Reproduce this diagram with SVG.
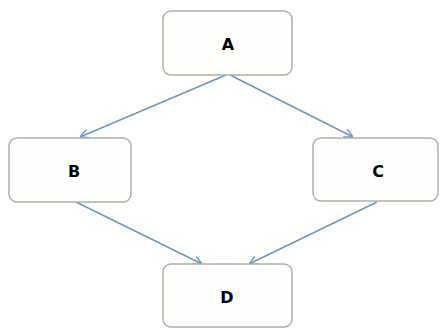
<svg xmlns="http://www.w3.org/2000/svg" width="441" height="329" viewBox="0 0 441 329">
<style>
.box{fill:#fefffd;stroke:#aab4a4;stroke-width:1.5}
.lbl{font-family:"DejaVu Sans",sans-serif;font-weight:bold;font-size:16px;fill:#000;text-anchor:middle}
.edge{stroke:#6e97c2;stroke-width:1.6;fill:none;marker-end:url(#arr)}
</style>
<defs>
<marker id="arr" viewBox="0 0 10 10" refX="10" refY="5" markerWidth="9" markerHeight="9" markerUnits="userSpaceOnUse" orient="auto">
<path d="M0,0 L10,5 L0,10" fill="none" stroke="#6e97c2" stroke-width="1.6"/>
</marker>
</defs>
<rect width="441" height="329" fill="#fff"/>
<g id="connectors">
<line class="edge" x1="226" y1="75" x2="80" y2="137"/>
<line class="edge" x1="230" y1="75" x2="353" y2="137"/>
<line class="edge" x1="76" y1="202" x2="202" y2="264"/>
<line class="edge" x1="377" y1="202" x2="249" y2="264"/>
</g>
<g id="A">
<rect class="box" x="163" y="11" width="129" height="64" rx="8"/>
<text class="lbl" x="228" y="50">A</text>
</g>
<g id="B">
<rect class="box" x="9" y="138" width="122" height="64" rx="8"/>
<text class="lbl" x="74" y="177">B</text>
</g>
<g id="C">
<rect class="box" x="313" y="138" width="125" height="63" rx="8"/>
<text class="lbl" x="378" y="177">C</text>
</g>
<g id="D">
<rect class="box" x="163" y="264" width="129" height="63" rx="8"/>
<text class="lbl" x="227" y="303">D</text>
</g>
</svg>
